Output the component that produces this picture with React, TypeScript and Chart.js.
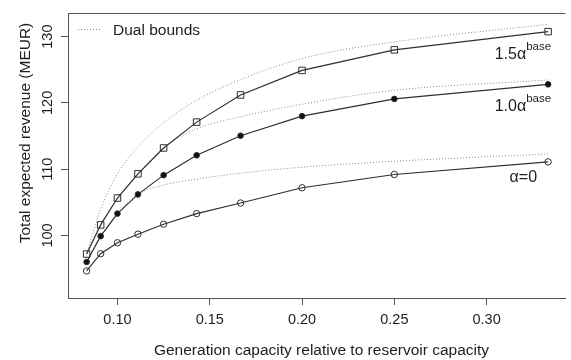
import React, { useEffect, useRef } from "react";
import { Chart, registerables } from "chart.js";

Chart.register(...registerables);

// ---- data ----
const xValues = [0.0833, 0.0909, 0.1, 0.1111, 0.125, 0.1429, 0.1667, 0.2, 0.25, 0.3333];
const alpha0 = [94.65, 97.25, 98.9, 100.2, 101.7, 103.3, 104.9, 107.2, 109.2, 111.1];
const alpha10 = [96.0, 99.9, 103.3, 106.2, 109.1, 112.1, 115.05, 118.0, 120.6, 122.8];
const alpha15 = [97.2, 101.6, 105.65, 109.3, 113.2, 117.1, 121.2, 124.9, 128.0, 130.75];
const bound0 = [96.0, 99.9, 103.3, 106.2, 107.6, 108.5, 109.4, 110.3, 111.2, 112.3];
const bound10 = [97.2, 101.6, 105.65, 109.3, 113.2, 116.1, 117.9, 119.8, 121.9, 123.45];
const bound15 = [97.2, 104.0, 109.3, 113.4, 117.0, 120.4, 123.5, 126.7, 129.2, 131.85];

const xTicks = [0.1, 0.15, 0.2, 0.25, 0.3];
const xTickLabels = ["0.10", "0.15", "0.20", "0.25", "0.30"];
const yTicks = [100, 110, 120, 130];
const yTickLabels = ["100", "110", "120", "130"];

const xTitle = "Generation capacity relative to reservoir capacity";
const yTitle = "Total expected revenue (MEUR)";
const legendLabel = "Dual bounds";
const label15 = "1.5α";
const label10 = "1.0α";
const labelSup = "base";
const label0 = "α=0";

// ---- styles ----
const FAMILY = "'Liberation Sans', Arial, sans-serif";
const AXIS = "#555555";
const TEXT = "#1e1e1e";
const LINE = "#2e2e2e";
const DOT = "#8a8a8a";

const toXY = (ys: number[]) => ys.map((y, i) => ({ x: xValues[i], y }));

const overlay = {
  id: "overlay",
  afterDraw(chart: any) {
    const { ctx, chartArea: ca, scales } = chart;
    const xs = scales.x;
    const ys = scales.y;
    ctx.save();

    // top border of the box
    ctx.strokeStyle = AXIS;
    ctx.lineWidth = 1;
    ctx.beginPath();
    ctx.moveTo(ca.left, Math.round(ca.top) + 0.5);
    ctx.lineTo(ca.right, Math.round(ca.top) + 0.5);
    ctx.stroke();

    // y tick labels (rotated, R style)
    ctx.fillStyle = TEXT;
    ctx.font = `14.5px ${FAMILY}`;
    ctx.textAlign = "center";
    ctx.textBaseline = "alphabetic";
    yTicks.forEach((v, i) => {
      const py = ys.getPixelForValue(v);
      ctx.save();
      ctx.translate(51.5, py);
      ctx.rotate(-Math.PI / 2);
      ctx.fillText(yTickLabels[i], 0, 0);
      ctx.restore();
    });

    // y title
    ctx.font = `15.5px ${FAMILY}`;
    ctx.save();
    ctx.translate(30, 133);
    ctx.rotate(-Math.PI / 2);
    ctx.fillText(yTitle, 0, 0);
    ctx.restore();

    // x title
    ctx.fillText(xTitle, 321.5, 355);

    // legend
    ctx.strokeStyle = DOT;
    ctx.setLineDash([1, 2]);
    ctx.beginPath();
    ctx.moveTo(78, 29.5);
    ctx.lineTo(102, 29.5);
    ctx.stroke();
    ctx.setLineDash([]);
    ctx.textAlign = "left";
    ctx.font = `15.5px ${FAMILY}`;
    ctx.fillText(legendLabel, 113, 35);

    // curve annotations, anchored to the last point of each series
    const last = xValues.length - 1;
    const drawSup = (main: string, yVal: number, dy: number) => {
      const px = xs.getPixelForValue(xValues[last]);
      const py = ys.getPixelForValue(yVal);
      ctx.font = `16px ${FAMILY}`;
      const w1 = ctx.measureText(main).width;
      ctx.font = `11.5px ${FAMILY}`;
      const w2 = ctx.measureText(labelSup).width;
      const right = px + 3;
      const start = right - w1 - w2;
      ctx.font = `16px ${FAMILY}`;
      ctx.fillText(main, start, py + dy);
      ctx.font = `11.5px ${FAMILY}`;
      ctx.fillText(labelSup, start + w1, py + dy - 9);
    };
    drawSup(label15, alpha15[last], 27);
    drawSup(label10, alpha10[last], 27);

    {
      const px = xs.getPixelForValue(xValues[last]);
      const py = ys.getPixelForValue(alpha0[last]);
      ctx.font = `16px ${FAMILY}`;
      ctx.textAlign = "right";
      ctx.fillText(label0, px - 11, py + 20);
    }

    ctx.restore();
  },
};

export default function App() {
  const ref = useRef<HTMLCanvasElement | null>(null);

  useEffect(() => {
    if (!ref.current) return;
    const solid = (data: number[], style: string, fill: string, radius: number) => ({
      data: toXY(data),
      borderColor: LINE,
      borderWidth: 1.15,
      pointStyle: style,
      pointRadius: radius,
      pointBorderColor: LINE,
      pointBorderWidth: 1,
      pointBackgroundColor: fill,
      fill: false,
      tension: 0,
    });
    const dotted = (data: number[]) => ({
      data: toXY(data),
      borderColor: DOT,
      borderWidth: 1,
      borderDash: [1, 2],
      pointRadius: 0,
      fill: false,
      cubicInterpolationMode: "monotone",
    });

    const chart = new Chart(ref.current, {
      type: "line",
      data: {
        datasets: [
          solid(alpha15, "rect", "rgba(0,0,0,0)", 4.6),
          solid(alpha10, "circle", "#111111", 2.8),
          solid(alpha0, "circle", "rgba(0,0,0,0)", 3.2),
          dotted(bound15),
          dotted(bound10),
          dotted(bound0),
        ] as any,
      },
      options: {
        responsive: false,
        animation: false,
        layout: { padding: { top: 13, left: 0, right: 0, bottom: 0 } },
        plugins: {
          legend: { display: false },
          tooltip: { enabled: false },
        },
        scales: {
          x: {
            type: "linear",
            min: 0.07321,
            max: 0.34267,
            afterBuildTicks: (s: any) => {
              s.ticks = xTicks.map((v) => ({ value: v }));
            },
            afterFit: (s: any) => {
              s.height = 62;
            },
            grid: {
              display: true,
              drawOnChartArea: false,
              drawTicks: true,
              tickLength: 7,
              tickColor: AXIS,
              tickWidth: 1,
            },
            border: { display: true, color: AXIS, width: 1 },
            ticks: {
              autoSkip: false,
              maxRotation: 0,
              padding: 6,
              color: TEXT,
              font: { family: FAMILY, size: 14.5 },
              callback: (v: any) => {
                const i = xTicks.findIndex((t) => Math.abs(t - Number(v)) < 1e-9);
                return i >= 0 ? xTickLabels[i] : "";
              },
            },
          },
          y: {
            type: "linear",
            min: 90.57,
            max: 133.56,
            afterBuildTicks: (s: any) => {
              s.ticks = yTicks.map((v) => ({ value: v }));
            },
            afterFit: (s: any) => {
              s.width = 68;
            },
            grid: {
              display: true,
              drawOnChartArea: false,
              drawTicks: true,
              tickLength: 7,
              tickColor: AXIS,
              tickWidth: 1,
            },
            border: { display: true, color: AXIS, width: 1 },
            ticks: { display: false },
          },
        },
      } as any,
      plugins: [overlay],
    });
    return () => chart.destroy();
  }, []);

  return (
    <div style={{ position: "fixed", left: 0, top: 0, width: 571, height: 360, background: "#fff" }}>
      <canvas ref={ref} width={571} height={360} style={{ display: "block" }} />
    </div>
  );
}
